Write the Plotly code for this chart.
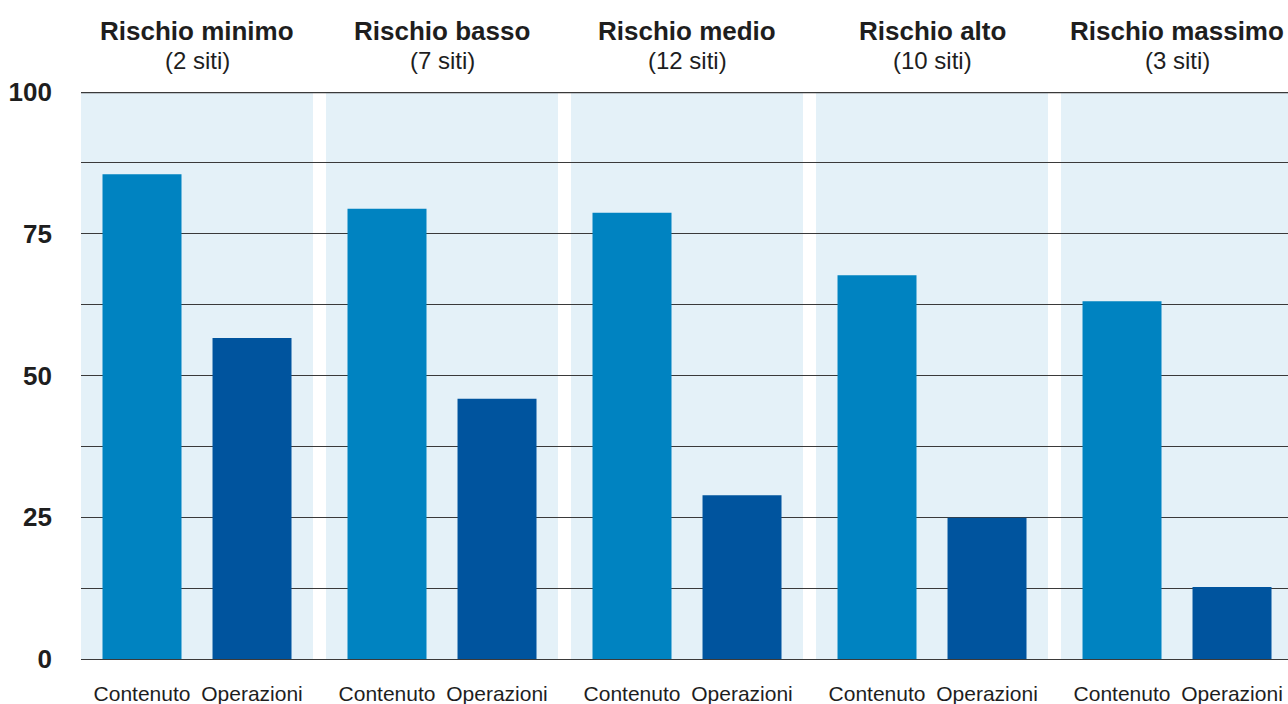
import plotly.graph_objects as go

# Risk groups and number of sites in each
groups = ["Rischio minimo", "Rischio basso", "Rischio medio", "Rischio alto", "Rischio massimo"]
sites = [2, 7, 12, 10, 3]
series_names = ["Contenuto", "Operazioni"]

# Scores per group (0-100)
contenuto = [85.5, 79.4, 78.7, 67.7, 63.1]
operazioni = [56.6, 45.9, 28.9, 24.9, 12.7]

y_ticks = [0, 25, 50, 75, 100]
y_minor = [12.5, 37.5, 62.5, 87.5]

COL_CONT = "#0083c1"
COL_OPER = "#00549e"
PANEL = "#e4f1f8"
GRID = "#3a3a3a"
TEXT = "#1e1e1e"
FONT = "Liberation Sans, Arial, sans-serif"

PANEL_HALF = 0.4735   # half-width of each group's background panel
OFFSET = 0.2245       # bar offset from group centre
BAR_W = 0.3224

xs = list(range(len(groups)))
x_cont = [i - OFFSET for i in xs]
x_oper = [i + OFFSET for i in xs]

fig = go.Figure()
fig.add_trace(go.Bar(x=x_cont, y=contenuto, width=BAR_W, marker_color=COL_CONT,
                     marker_line_width=0, name=series_names[0]))
fig.add_trace(go.Bar(x=x_oper, y=operazioni, width=BAR_W, marker_color=COL_OPER,
                     marker_line_width=0, name=series_names[1]))

# Light background panel behind each group
for i in xs:
    fig.add_shape(type="rect", xref="x", yref="y", x0=i - PANEL_HALF, x1=i + PANEL_HALF,
                  y0=0, y1=100, fillcolor=PANEL, line_width=0, layer="below")

# Rule along the top of the value range (nudged inside so it is not clipped)
fig.add_shape(type="line", xref="paper", yref="y", x0=0, x1=1, y0=99.9, y1=99.9,
              line=dict(color=GRID, width=1.5), layer="above")

# Group headings
for i, (g, n) in enumerate(zip(groups, sites)):
    fig.add_annotation(x=i, y=1.1076, xref="x", yref="paper", text=f"<b>{g}</b>",
                       showarrow=False, xanchor="center", yanchor="middle",
                       font=dict(family=FONT, size=26, color=TEXT))
    fig.add_annotation(x=i, y=1.0547, xref="x", yref="paper", text=f"({n} siti)",
                       showarrow=False, xanchor="center", yanchor="middle",
                       font=dict(family=FONT, size=24, color=TEXT))

tickvals = []
ticktext = []
for i in xs:
    tickvals += [x_cont[i], x_oper[i]]
    ticktext += series_names

fig.update_layout(
    width=1288, height=704,
    margin=dict(l=81, r=0, t=92, b=45),
    paper_bgcolor="white", plot_bgcolor="white",
    barmode="overlay", showlegend=False,
    font=dict(family=FONT, color=TEXT),
    xaxis=dict(range=[-PANEL_HALF, 4.453], tickvals=tickvals, ticktext=ticktext,
               showgrid=False, zeroline=False, showline=False, ticks="",
               tickfont=dict(size=21, color=TEXT), ticklabelstandoff=20),
    yaxis=dict(range=[0, 100], tickvals=y_ticks, ticktext=[str(v) for v in y_ticks],
               showgrid=True, gridcolor=GRID, gridwidth=1,
               minor=dict(tickvals=y_minor, showgrid=True, gridcolor=GRID, gridwidth=1),
               zeroline=True, zerolinecolor=GRID, zerolinewidth=1, showline=False,
               ticks="", tickfont=dict(size=26, color=TEXT, weight="bold"),
               ticklabelstandoff=28),
)

fig.write_html("out.html")
